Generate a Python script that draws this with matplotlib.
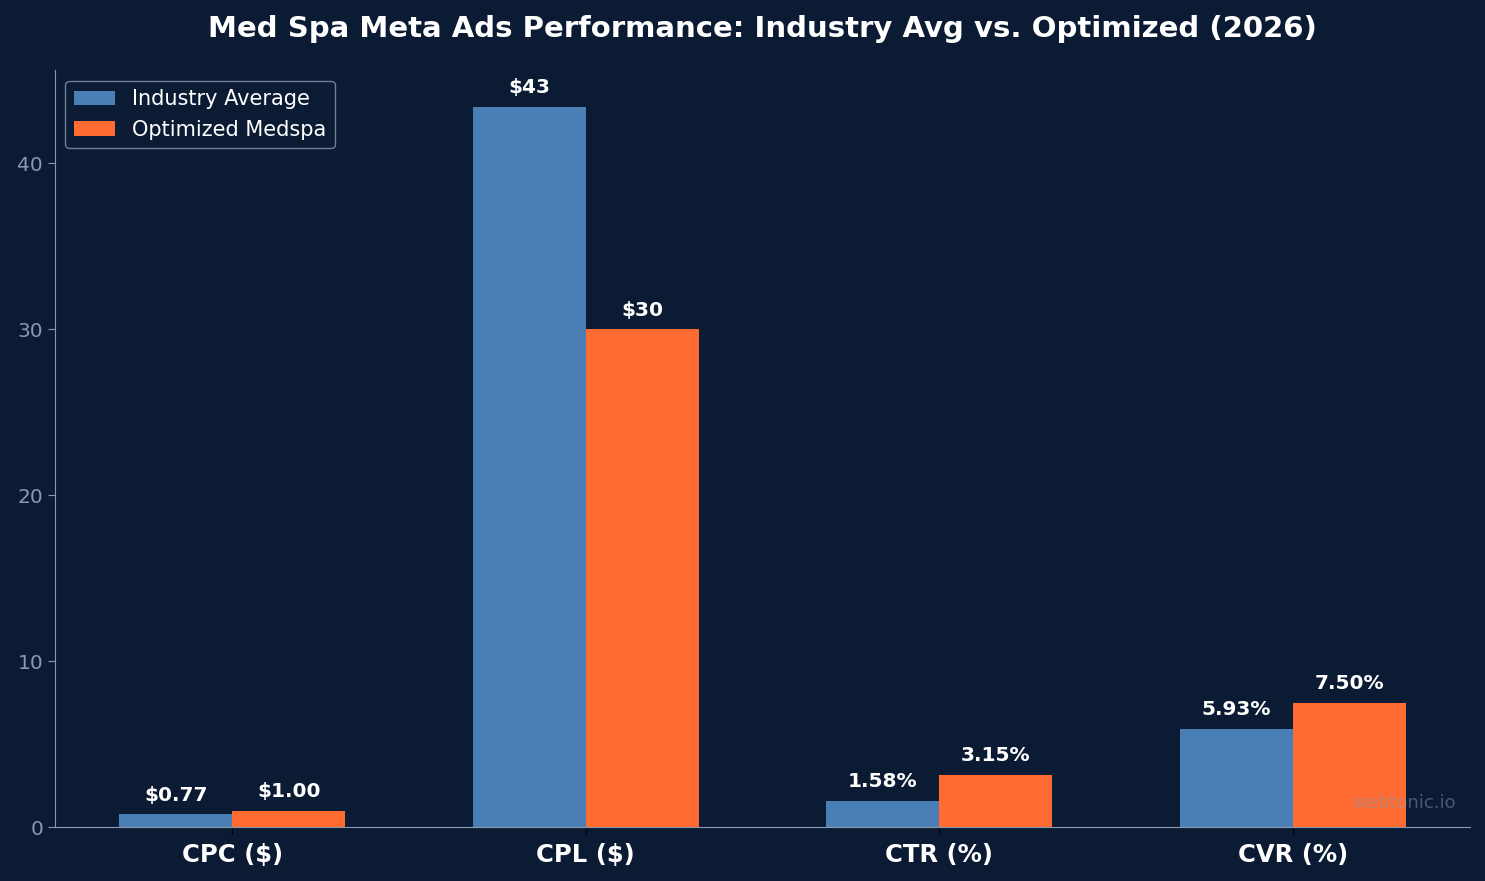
import matplotlib
matplotlib.use('Agg')
import matplotlib.pyplot as plt
import numpy as np

# Données
metrics = ['CPC ($)', 'CPL ($)', 'CTR (%)', 'CVR (%)']
industry = [0.77, 43.43, 1.58, 5.93]
optimized = [1.00, 30.0, 3.15, 7.50]
industry_labels = ['$0.77', '$43', '1.58%', '5.93%']
optimized_labels = ['$1.00', '$30', '3.15%', '7.50%']

bg = '#0c1b34'
blue = '#4a7fb5'
orange = '#ff6b30'
grey = '#8899b0'

fig, ax = plt.subplots(figsize=(14.85, 8.81), dpi=100)
fig.patch.set_facecolor(bg)
ax.set_facecolor(bg)

x = np.arange(len(metrics))
w = 0.32
b1 = ax.bar(x - w/2, industry, w, color=blue, label='Industry Average')
b2 = ax.bar(x + w/2, optimized, w, color=orange, label='Optimized Medspa')

# Étiquettes des valeurs
for bars, labels in [(b1, industry_labels), (b2, optimized_labels)]:
	for bar, lab in zip(bars, labels):
		ax.annotate(lab, (bar.get_x() + bar.get_width()/2, bar.get_height()),
					xytext=(0, 7), textcoords='offset points', ha='center', va='bottom',
					color='white', fontsize=14.5, fontweight='bold')

ax.set_xticks(x)
ax.set_xticklabels(metrics, fontsize=17.5, fontweight='bold', color='white')
ax.tick_params(axis='x', colors='black', labelcolor='white', length=5, pad=6)
ax.tick_params(axis='y', colors=grey, labelsize=14.5, length=5)
for s in ['top', 'right']:
	ax.spines[s].set_visible(False)
for s in ['left', 'bottom']:
	ax.spines[s].set_color(grey)

ax.set_title('Med Spa Meta Ads Performance: Industry Avg vs. Optimized (2026)',
			 color='white', fontsize=21, fontweight='bold', pad=24)

leg = ax.legend(loc='upper left', fontsize=15, facecolor=bg, edgecolor=grey)
for t in leg.get_texts():
	t.set_color('white')

ax.text(0.99, 0.02, 'webtonic.io', transform=ax.transAxes, ha='right', va='bottom',
		color='#8899b0', alpha=0.5, fontsize=13, zorder=10)

plt.subplots_adjust(left=0.037, right=0.99, top=0.92, bottom=0.061)
plt.savefig('out.png', dpi=100, facecolor=bg)
